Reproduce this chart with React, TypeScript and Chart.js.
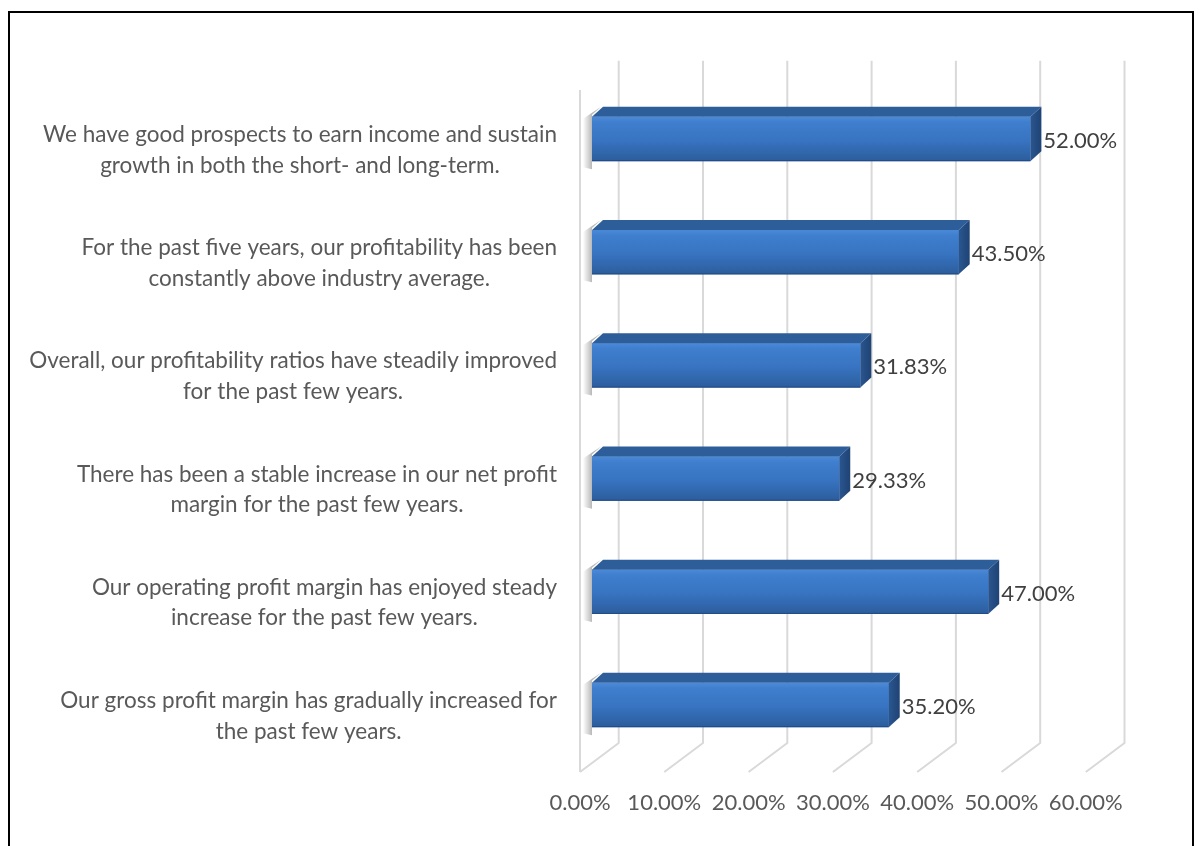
import React, { useEffect, useRef } from "react";
import { Chart, registerables } from "chart.js";

Chart.register(...registerables);

// ---- data ----
const categories: string[][] = [
  ["We have good prospects to earn income and sustain", "growth in both the short- and long-term."],
  ["For the past five years, our profitability has been", "constantly above industry average."],
  ["Overall, our profitability ratios have steadily improved", "for the past few years."],
  ["There has been a stable increase in our net profit", "margin for the past few years."],
  ["Our operating profit margin has enjoyed steady", "increase for the past few years."],
  ["Our gross profit margin has gradually increased for", "the past few years."],
];
const values: number[] = [52.0, 43.5, 31.83, 29.33, 47.0, 35.2];
const xTickValues: number[] = [0, 10, 20, 30, 40, 50, 60];
const xMax = 60;

// ---- style ----
const FONT = "Lato";
const D = {
  backDx: 26.7,
  frontDx: -12,
  wallTopBack: -21.7,
  wallTopFront: 7.6,
  floorBack: -18.6,
  floorFront: 10.4,
  barDx: 11,
  barDy: 10,
};

const box3dPlugin = {
  id: "box3d",
  beforeDatasetsDraw(chart: any) {
    const { ctx, chartArea, scales } = chart;
    const { top, bottom } = chartArea;
    const x = scales.x;
    ctx.save();
    ctx.strokeStyle = "#d9d9d9";
    ctx.lineWidth = 2;
    ctx.lineJoin = "round";
    xTickValues.forEach((v) => {
      const p = x.getPixelForValue(v);
      const xb = p + D.backDx;
      const xf = p + D.frontDx;
      ctx.beginPath();
      ctx.moveTo(xb, top + D.wallTopBack);
      ctx.lineTo(xb, bottom + D.floorBack);
      ctx.lineTo(xf, bottom + D.floorFront);
      ctx.stroke();
    });
    const xf0 = x.getPixelForValue(0) + D.frontDx;
    ctx.beginPath();
    ctx.moveTo(xf0, top + D.wallTopFront);
    ctx.lineTo(xf0, bottom + D.floorFront);
    ctx.stroke();
    ctx.restore();
  },
  afterDatasetsDraw(chart: any) {
    const { ctx } = chart;
    const meta = chart.getDatasetMeta(0);
    ctx.save();
    meta.data.forEach((bar: any, i: number) => {
      const { x: xe, y, base, height } = bar.getProps(["x", "y", "base", "height"], true);
      const y0 = y - height / 2;
      const y1 = y + height / 2;
      const dx = D.barDx;
      const dy = D.barDy;

      // soft shadow on the left wall
      const sg = ctx.createLinearGradient(base - 9, 0, base, 0);
      sg.addColorStop(0, "rgba(0,0,0,0)");
      sg.addColorStop(1, "rgba(0,0,0,0.28)");
      ctx.fillStyle = sg;
      ctx.beginPath();
      ctx.moveTo(base, y0 - 2);
      ctx.lineTo(base + dx - 2, y0 - dy);
      ctx.lineTo(base - 9, y0 + 2);
      ctx.lineTo(base - 9, y1 + 6);
      ctx.lineTo(base, y1 + 8);
      ctx.closePath();
      ctx.fill();

      // front face gradient
      const fg = ctx.createLinearGradient(0, y0, 0, y1);
      fg.addColorStop(0, "#4a8ad8");
      fg.addColorStop(0.12, "#3f7fce");
      fg.addColorStop(0.55, "#3773c0");
      fg.addColorStop(1, "#2c5d9c");
      ctx.fillStyle = fg;
      ctx.fillRect(base, y0, xe - base, height);
      ctx.strokeStyle = "rgba(30,60,110,0.6)";
      ctx.lineWidth = 1;
      ctx.beginPath();
      ctx.moveTo(base, y1 - 0.5);
      ctx.lineTo(xe, y1 - 0.5);
      ctx.stroke();

      // top face
      ctx.fillStyle = "#2e5e9a";
      ctx.beginPath();
      ctx.moveTo(base, y0);
      ctx.lineTo(base + dx, y0 - dy);
      ctx.lineTo(xe + dx, y0 - dy);
      ctx.lineTo(xe, y0);
      ctx.closePath();
      ctx.fill();

      // side face
      const sideG = ctx.createLinearGradient(xe, 0, xe + dx, 0);
      sideG.addColorStop(0, "#2a5690");
      sideG.addColorStop(1, "#1f4374");
      ctx.fillStyle = sideG;
      ctx.beginPath();
      ctx.moveTo(xe, y0);
      ctx.lineTo(xe + dx, y0 - dy);
      ctx.lineTo(xe + dx, y1 - dy);
      ctx.lineTo(xe, y1);
      ctx.closePath();
      ctx.fill();

      // data label
      ctx.fillStyle = "#404040";
      ctx.font = `22px ${FONT}`;
      ctx.textAlign = "left";
      ctx.textBaseline = "middle";
      ctx.fillText(values[i].toFixed(2) + "%", xe + dx + 2, y + 2);
    });
    ctx.restore();
  },
  afterDraw(chart: any) {
    const { ctx, scales } = chart;
    const yS = scales.y;
    ctx.save();
    ctx.fillStyle = "#595959";
    ctx.font = `22.5px ${FONT}`;
    ctx.textAlign = "center";
    ctx.textBaseline = "middle";
    const rightEdge = 557;
    const lineH = 30.6;
    categories.forEach((lines, i) => {
      const cy = yS.getPixelForValue(i) + 11;
      const w = Math.max(...lines.map((l) => ctx.measureText(l).width));
      const cx = rightEdge - w / 2;
      const startY = cy - ((lines.length - 1) * lineH) / 2;
      lines.forEach((l, j) => ctx.fillText(l, cx, startY + j * lineH));
    });
    ctx.restore();
  },
};

export default function App() {
  const ref = useRef<HTMLCanvasElement | null>(null);
  useEffect(() => {
    if (!ref.current) return;
    const chart = new Chart(ref.current, {
      type: "bar",
      data: {
        labels: categories.map((c) => c.join(" ")),
        datasets: [
          {
            data: values,
            backgroundColor: "#3773c0",
            borderWidth: 0,
            barPercentage: 0.391,
            categoryPercentage: 1,
          },
        ],
      },
      options: {
        indexAxis: "y",
        responsive: false,
        animation: false,
        layout: { padding: { top: 82.4, right: 102.2, left: 0, bottom: 0 } },
        plugins: { legend: { display: false }, tooltip: { enabled: false } },
        scales: {
          x: {
            type: "linear",
            min: 0,
            max: xMax,
            afterFit: (s: any) => {
              s.height = 84.4;
            },
            afterBuildTicks: (s: any) => {
              s.ticks = xTickValues.map((v) => ({ value: v }));
            },
            grid: { display: false, drawTicks: false },
            border: { display: false },
            ticks: {
              callback: (v: any) => Number(v).toFixed(2) + "%",
              labelOffset: -12,
              padding: 28,
              color: "#595959",
              font: { family: FONT, size: 22 },
              maxRotation: 0,
              autoSkip: false,
            },
          },
          y: {
            type: "category",
            afterFit: (s: any) => {
              s.width = 592;
            },
            grid: { display: false },
            border: { display: false },
            ticks: { display: false },
          },
        },
      },
      plugins: [box3dPlugin],
    } as any);
    return () => chart.destroy();
  }, []);

  return (
    <div style={{ position: "fixed", left: 0, top: 0, width: 1200, height: 846, overflow: "hidden", background: "#fff" }}>
      <canvas ref={ref} width={1200} height={846} style={{ position: "absolute", left: 0, top: 0, display: "block" }} />
      <div
        style={{
          position: "absolute",
          left: 8,
          top: 11,
          width: 1186,
          height: 900,
          border: "2px solid #000",
          boxSizing: "border-box",
          pointerEvents: "none",
        }}
      />
    </div>
  );
}
